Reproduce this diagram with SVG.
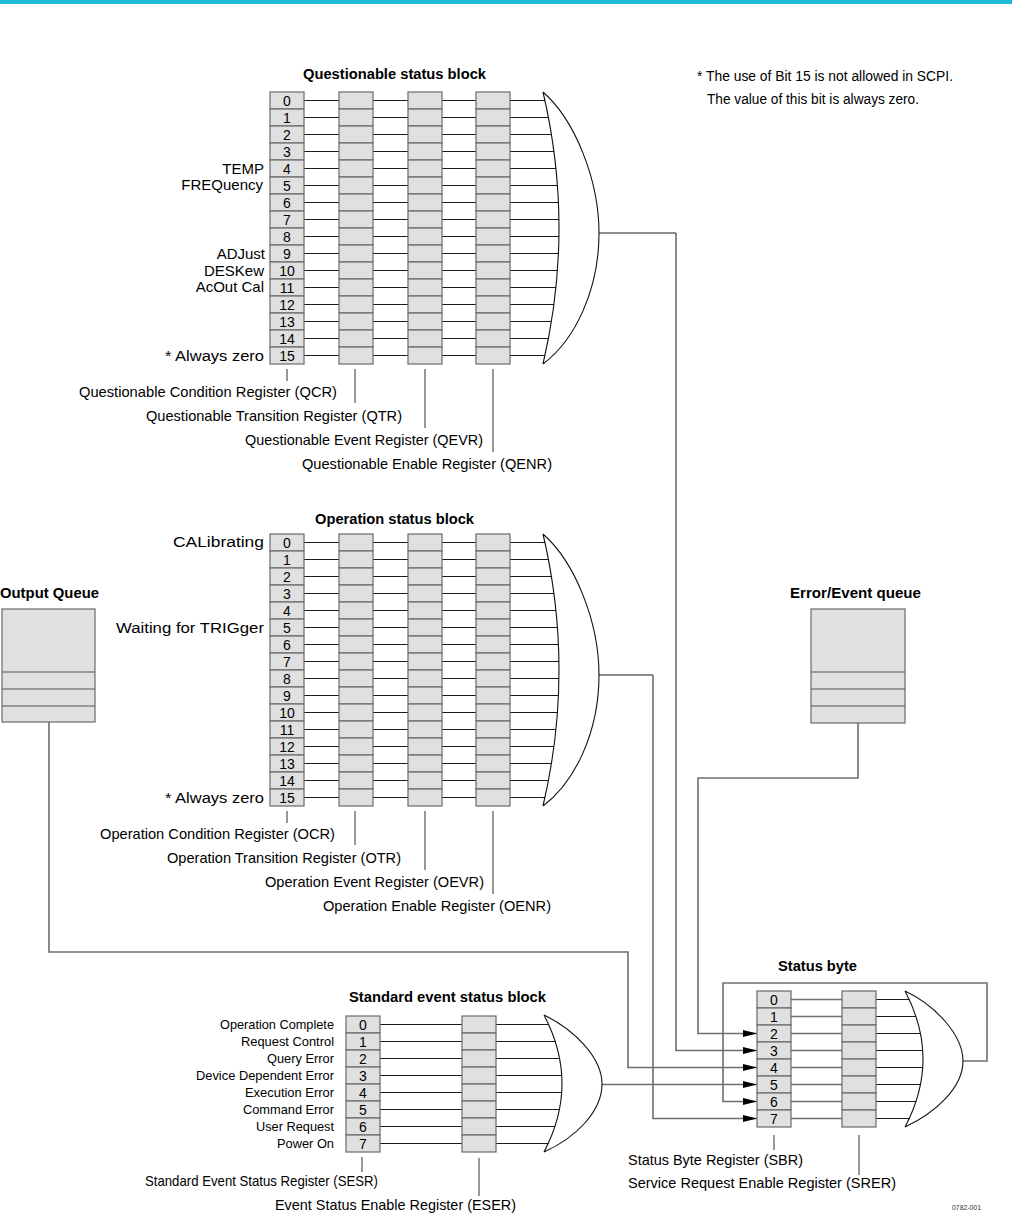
<svg xmlns="http://www.w3.org/2000/svg" xmlns:xlink="http://www.w3.org/1999/xlink" width="1012" height="1214" viewBox="0 0 1012 1214">
<style>
.cell{fill:#e0e0e0;stroke:#6a6a6a;stroke-width:1.2}
.w{stroke:#1a1a1a;stroke-width:1;fill:none}
.c{stroke:#6e6e6e;stroke-width:1.6;fill:none}
.tk{stroke:#555;stroke-width:1.2;fill:none}
.gate{fill:none;stroke:#111;stroke-width:1.1}
text{font-family:"Liberation Sans",Arial,Helvetica,sans-serif;fill:#000}
.t{font-size:15.5px}
.e{font-size:15px;text-anchor:end}
.r{font-size:15px}
.b{font-size:14.5px;font-weight:bold}
.s{font-size:13px}
.n{font-size:14px;text-anchor:middle}
.f{font-size:14px}
.tiny{font-size:8px;fill:#333}
</style>
<defs>
<marker id="ah" markerUnits="userSpaceOnUse" markerWidth="14" markerHeight="8" refX="14" refY="4" orient="auto">
<path d="M0,0.5 L14,4 L0,7.5 z" fill="#000"/>
</marker>
<g id="col16">
<rect class="cell" x="0" y="0" width="34" height="17"/><rect class="cell" x="0" y="17" width="34" height="17"/><rect class="cell" x="0" y="34" width="34" height="17"/><rect class="cell" x="0" y="51" width="34" height="17"/><rect class="cell" x="0" y="68" width="34" height="17"/><rect class="cell" x="0" y="85" width="34" height="17"/><rect class="cell" x="0" y="102" width="34" height="17"/><rect class="cell" x="0" y="119" width="34" height="17"/><rect class="cell" x="0" y="136" width="34" height="17"/><rect class="cell" x="0" y="153" width="34" height="17"/><rect class="cell" x="0" y="170" width="34" height="17"/><rect class="cell" x="0" y="187" width="34" height="17"/><rect class="cell" x="0" y="204" width="34" height="17"/><rect class="cell" x="0" y="221" width="34" height="17"/><rect class="cell" x="0" y="238" width="34" height="17"/><rect class="cell" x="0" y="255" width="34" height="17"/>
</g>
<g id="col8">
<rect class="cell" x="0" y="0" width="34" height="17"/><rect class="cell" x="0" y="17" width="34" height="17"/><rect class="cell" x="0" y="34" width="34" height="17"/><rect class="cell" x="0" y="51" width="34" height="17"/><rect class="cell" x="0" y="68" width="34" height="17"/><rect class="cell" x="0" y="85" width="34" height="17"/><rect class="cell" x="0" y="102" width="34" height="17"/><rect class="cell" x="0" y="119" width="34" height="17"/>
</g>
<path id="rows16" class="w" d="M304,8.5H339M373,8.5H408M442,8.5H476M510,8.5H545 M304,25.5H339M373,25.5H408M442,25.5H476M510,25.5H548.5 M304,42.5H339M373,42.5H408M442,42.5H476M510,42.5H551.5 M304,59.5H339M373,59.5H408M442,59.5H476M510,59.5H554 M304,76.5H339M373,76.5H408M442,76.5H476M510,76.5H556 M304,93.5H339M373,93.5H408M442,93.5H476M510,93.5H557.5 M304,110.5H339M373,110.5H408M442,110.5H476M510,110.5H558.5 M304,127.5H339M373,127.5H408M442,127.5H476M510,127.5H559 M304,144.5H339M373,144.5H408M442,144.5H476M510,144.5H559 M304,161.5H339M373,161.5H408M442,161.5H476M510,161.5H558.5 M304,178.5H339M373,178.5H408M442,178.5H476M510,178.5H557.5 M304,195.5H339M373,195.5H408M442,195.5H476M510,195.5H556 M304,212.5H339M373,212.5H408M442,212.5H476M510,212.5H554 M304,229.5H339M373,229.5H408M442,229.5H476M510,229.5H551.5 M304,246.5H339M373,246.5H408M442,246.5H476M510,246.5H548.5 M304,263.5H339M373,263.5H408M442,263.5H476M510,263.5H545"/>
<path id="gate16" class="gate" d="M543,0 Q575,136 543,272 M543,0 C575,28 599,88 599,141 C599,198 575,248 543,272"/>
</defs>

<rect x="0" y="0" width="1012" height="4" fill="#1eb8d9"/>

<g id="footnote">
<text class="f" x="697" y="81" textLength="256" lengthAdjust="spacingAndGlyphs">* The use of Bit 15 is not allowed in SCPI.</text>
<text class="f" x="707" y="104" textLength="212" lengthAdjust="spacingAndGlyphs">The value of this bit is always zero.</text>
</g>

<g id="connectors">
<use href="#rows16" xlink:href="#rows16" y="92"/>
<use href="#rows16" xlink:href="#rows16" y="534"/>
<path class="w" d="M379,1024.5H462M379,1041.5H462M379,1058.5H462M379,1075.5H462M379,1092.5H462M379,1109.5H462M379,1126.5H462M379,1143.5H462 M496,1024.5H549M496,1041.5H555.5M496,1058.5H560M496,1075.5H562M496,1092.5H562M496,1109.5H559.5M496,1126.5H555M496,1143.5H548.5"/>
<path class="c" style="stroke-width:1.3" d="M790,999.5H842M790,1016.5H842M790,1033.5H842M790,1050.5H842M790,1067.5H842M790,1084.5H842M790,1101.5H842M790,1118.5H842"/>
<path class="w" d="M876,999.5H909.5M876,1016.5H916M876,1033.5H920.5M876,1050.5H923M876,1067.5H923M876,1084.5H920.5M876,1101.5H916M876,1118.5H909.5"/>
<path class="w" d="M599,233H676"/>
<path class="c" d="M676,233V1050.5H757" marker-end="url(#ah)"/>
<path class="w" d="M599,675H653"/>
<path class="c" d="M653,675V1118.5H757" marker-end="url(#ah)"/>
<path class="c" d="M49,722V952H628V1067.5H757" marker-end="url(#ah)"/>
<path class="c" d="M602,1084.5H757" marker-end="url(#ah)"/>
<path class="c" d="M858,723V778H698V1033.5H757" marker-end="url(#ah)"/>
<path class="c" d="M963,1061H987V983H723V1101.5H757" marker-end="url(#ah)"/>
<path class="tk" d="M287,369V381M355,369V403M425,369V428M493,369V452"/>
<path class="tk" d="M287,811V823M355,811V845M425,811V870M493,811V894"/>
<path class="tk" d="M362,1157V1172M479,1158V1196"/>
<path class="tk" d="M774,1135V1150M859,1135V1175"/>
</g>

<g id="questionable-block">
<text class="b" x="303" y="79" textLength="183" lengthAdjust="spacingAndGlyphs">Questionable status block</text>
<g id="QCR"><use href="#col16" xlink:href="#col16" x="270" y="92"/>
<text class="n" x="287" y="105.5">0</text><text class="n" x="287" y="122.5">1</text><text class="n" x="287" y="139.5">2</text><text class="n" x="287" y="156.5">3</text><text class="n" x="287" y="173.5">4</text><text class="n" x="287" y="190.5">5</text><text class="n" x="287" y="207.5">6</text><text class="n" x="287" y="224.5">7</text><text class="n" x="287" y="241.5">8</text><text class="n" x="287" y="258.5">9</text><text class="n" x="287" y="275.5">10</text><text class="n" x="287" y="292.5">11</text><text class="n" x="287" y="309.5">12</text><text class="n" x="287" y="326.5">13</text><text class="n" x="287" y="343.5">14</text><text class="n" x="287" y="360.5">15</text>
</g>
<g id="QTR"><use href="#col16" xlink:href="#col16" x="339" y="92"/></g>
<g id="QEVR"><use href="#col16" xlink:href="#col16" x="408" y="92"/></g>
<g id="QENR"><use href="#col16" xlink:href="#col16" x="476" y="92"/></g>
<use href="#gate16" xlink:href="#gate16" y="92"/>
<text class="e" x="264" y="174">TEMP</text>
<text class="e" x="263" y="189.5">FREQuency</text>
<text class="e" x="265" y="259">ADJust</text>
<text class="e" x="264" y="276">DESKew</text>
<text class="e" x="264" y="292">AcOut Cal</text>
<text class="t" x="165" y="360.5" textLength="99" lengthAdjust="spacingAndGlyphs">* Always zero</text>
<text class="r" x="79" y="397" textLength="258" lengthAdjust="spacingAndGlyphs">Questionable Condition Register (QCR)</text>
<text class="r" x="146" y="421" textLength="256" lengthAdjust="spacingAndGlyphs">Questionable Transition Register (QTR)</text>
<text class="r" x="245" y="445" textLength="238" lengthAdjust="spacingAndGlyphs">Questionable Event Register (QEVR)</text>
<text class="r" x="302" y="469" textLength="250" lengthAdjust="spacingAndGlyphs">Questionable Enable Register (QENR)</text>
</g>

<g id="operation-block">
<text class="b" x="315" y="524" textLength="159" lengthAdjust="spacingAndGlyphs">Operation status block</text>
<g id="OCR"><use href="#col16" xlink:href="#col16" x="270" y="534"/>
<text class="n" x="287" y="547.5">0</text><text class="n" x="287" y="564.5">1</text><text class="n" x="287" y="581.5">2</text><text class="n" x="287" y="598.5">3</text><text class="n" x="287" y="615.5">4</text><text class="n" x="287" y="632.5">5</text><text class="n" x="287" y="649.5">6</text><text class="n" x="287" y="666.5">7</text><text class="n" x="287" y="683.5">8</text><text class="n" x="287" y="700.5">9</text><text class="n" x="287" y="717.5">10</text><text class="n" x="287" y="734.5">11</text><text class="n" x="287" y="751.5">12</text><text class="n" x="287" y="768.5">13</text><text class="n" x="287" y="785.5">14</text><text class="n" x="287" y="802.5">15</text>
</g>
<g id="OTR"><use href="#col16" xlink:href="#col16" x="339" y="534"/></g>
<g id="OEVR"><use href="#col16" xlink:href="#col16" x="408" y="534"/></g>
<g id="OENR"><use href="#col16" xlink:href="#col16" x="476" y="534"/></g>
<use href="#gate16" xlink:href="#gate16" y="534"/>
<text class="t" x="173" y="546.5" textLength="91" lengthAdjust="spacingAndGlyphs">CALibrating</text>
<text class="t" x="116" y="633" textLength="148" lengthAdjust="spacingAndGlyphs">Waiting for TRIGger</text>
<text class="t" x="165" y="802.5" textLength="99" lengthAdjust="spacingAndGlyphs">* Always zero</text>
<text class="r" x="100" y="839" textLength="235" lengthAdjust="spacingAndGlyphs">Operation Condition Register (OCR)</text>
<text class="r" x="167" y="863" textLength="234" lengthAdjust="spacingAndGlyphs">Operation Transition Register (OTR)</text>
<text class="r" x="265" y="887" textLength="219" lengthAdjust="spacingAndGlyphs">Operation Event Register (OEVR)</text>
<text class="r" x="323" y="911" textLength="228" lengthAdjust="spacingAndGlyphs">Operation Enable Register (OENR)</text>
</g>

<g id="output-queue">
<text class="b" x="0" y="598" textLength="99" lengthAdjust="spacingAndGlyphs">Output Queue</text>
<rect class="cell" x="2" y="609" width="93" height="113"/>
<path class="tk" d="M2,672H95M2,689H95M2,706H95"/>
</g>

<g id="error-event-queue">
<text class="b" x="790" y="598" textLength="131" lengthAdjust="spacingAndGlyphs">Error/Event queue</text>
<rect class="cell" x="811" y="609" width="94" height="114"/>
<path class="tk" d="M811,672H905M811,689H905M811,706H905"/>
</g>

<g id="standard-event-block">
<text class="b" x="349" y="1002" textLength="197" lengthAdjust="spacingAndGlyphs">Standard event status block</text>
<g id="SESR"><use href="#col8" xlink:href="#col8" x="346" y="1016"/>
<text class="n" x="363" y="1029.5">0</text><text class="n" x="363" y="1046.5">1</text><text class="n" x="363" y="1063.5">2</text><text class="n" x="363" y="1080.5">3</text><text class="n" x="363" y="1097.5">4</text><text class="n" x="363" y="1114.5">5</text><text class="n" x="363" y="1131.5">6</text><text class="n" x="363" y="1148.5">7</text>
</g>
<g id="ESER"><use href="#col8" xlink:href="#col8" x="462" y="1016"/></g>
<path class="gate" d="M544,1015 Q580,1083.5 544,1152 M544,1015 C575,1030 602,1058 602,1084 C602,1112 575,1138 544,1152"/>
<text class="s" x="220" y="1029" textLength="114" lengthAdjust="spacingAndGlyphs">Operation Complete</text>
<text class="s" x="241" y="1046" textLength="93" lengthAdjust="spacingAndGlyphs">Request Control</text>
<text class="s" x="267" y="1063" textLength="67" lengthAdjust="spacingAndGlyphs">Query Error</text>
<text class="s" x="196" y="1080" textLength="138" lengthAdjust="spacingAndGlyphs">Device Dependent Error</text>
<text class="s" x="245" y="1097" textLength="89" lengthAdjust="spacingAndGlyphs">Execution Error</text>
<text class="s" x="243" y="1114" textLength="91" lengthAdjust="spacingAndGlyphs">Command Error</text>
<text class="s" x="256" y="1131" textLength="78" lengthAdjust="spacingAndGlyphs">User Request</text>
<text class="s" x="277" y="1148" textLength="57" lengthAdjust="spacingAndGlyphs">Power On</text>
<text class="r" x="145" y="1186" textLength="233" lengthAdjust="spacingAndGlyphs">Standard Event Status Register (SESR)</text>
<text class="r" x="275" y="1210" textLength="241" lengthAdjust="spacingAndGlyphs">Event Status Enable Register (ESER)</text>
</g>

<g id="status-byte">
<text class="b" x="778" y="971" textLength="79" lengthAdjust="spacingAndGlyphs">Status byte</text>
<g id="SBR"><use href="#col8" xlink:href="#col8" x="757" y="991"/>
<text class="n" x="774" y="1004.5">0</text><text class="n" x="774" y="1021.5">1</text><text class="n" x="774" y="1038.5">2</text><text class="n" x="774" y="1055.5">3</text><text class="n" x="774" y="1072.5">4</text><text class="n" x="774" y="1089.5">5</text><text class="n" x="774" y="1106.5">6</text><text class="n" x="774" y="1123.5">7</text>
</g>
<g id="SRER"><use href="#col8" xlink:href="#col8" x="842" y="991"/></g>
<path class="gate" d="M905,991 Q941,1059 905,1127 M905,991 C935,1005 963,1035 963,1061 C963,1088 935,1113 905,1127"/>
<text class="r" x="628" y="1165" textLength="175" lengthAdjust="spacingAndGlyphs">Status Byte Register (SBR)</text>
<text class="r" x="628" y="1188" textLength="268" lengthAdjust="spacingAndGlyphs">Service Request Enable Register (SRER)</text>
</g>

<text class="tiny" x="952" y="1210" textLength="29" lengthAdjust="spacingAndGlyphs">0782-001</text>
</svg>
